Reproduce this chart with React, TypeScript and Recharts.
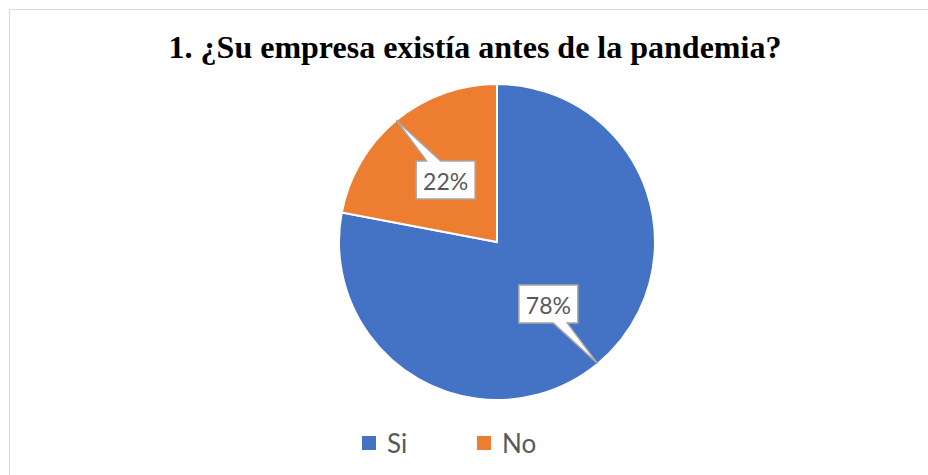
import React from 'react';
import { PieChart, Pie, Cell, Legend } from 'recharts';

// answers and their share of the responses (%)
const categories = ['Si', 'No'];
const shares = [78, 22];
const colors = ['#4472C4', '#ED7D31'];

const data = categories.map((name, i) => ({ name, value: shares[i] }));

const RADIAN = Math.PI / 180;

// callout box with a pointer that reaches the slice edge
const CalloutLabel = (props: any) => {
  const { cx, cy, midAngle, outerRadius, percent } = props;
  const cos = Math.cos(-midAngle * RADIAN);
  const sin = Math.sin(-midAngle * RADIAN);
  const bx = cx + outerRadius * 0.51 * cos;
  const by = cy + outerRadius * 0.51 * sin;
  const tx = cx + outerRadius * cos;
  const ty = cy + outerRadius * sin;
  const w = 59;
  const h = 38;
  const x0 = bx - w / 2;
  const x1 = bx + w / 2;
  const y0 = by - h / 2;
  const y1 = by + h / 2;
  const base = bx + (cos < 0 ? -12 : 12);
  let d;
  if (ty < by) {
    d = `M${x0},${y0} L${base - 7},${y0} L${tx},${ty} L${base + 7},${y0} L${x1},${y0} L${x1},${y1} L${x0},${y1} Z`;
  } else {
    d = `M${x0},${y0} L${x1},${y0} L${x1},${y1} L${base + 7},${y1} L${tx},${ty} L${base - 7},${y1} L${x0},${y1} Z`;
  }
  return (
    <g>
      <path d={d} fill="#ffffff" stroke="#a6a6a6" strokeWidth={1.5} strokeLinejoin="miter" />
      <text
        x={bx}
        y={by + 1}
        textAnchor="middle"
        dominantBaseline="central"
        fill="#595959"
        fontFamily="Lato, sans-serif"
        fontSize={23}
      >
        {`${Math.round(percent * 100)}%`}
      </text>
    </g>
  );
};

const LegendContent = () => (
  <div style={{ display: 'flex', fontFamily: 'Lato, sans-serif', fontSize: 26, color: '#595959' }}>
    {categories.map((c, i) => (
      <div key={c} style={{ display: 'flex', alignItems: 'center', width: i === 0 ? 115 : 'auto' }}>
        <span style={{ width: 14, height: 14, background: colors[i], display: 'inline-block', marginRight: 11 }} />
        <span>{c}</span>
      </div>
    ))}
  </div>
);

export default function App() {
  return (
    <div style={{ position: 'absolute', left: 0, top: 0, width: 928, height: 475, overflow: 'hidden', background: '#fff' }}>
      <div
        style={{
          position: 'absolute',
          left: 9,
          top: 9,
          width: 960,
          height: 520,
          border: '1.5px solid #d9d9d9',
        }}
      />
      <div
        style={{
          position: 'absolute',
          left: 0,
          top: 29,
          width: 950,
          textAlign: 'center',
          fontFamily: '"Liberation Serif", "Times New Roman", serif',
          fontWeight: 'bold',
          fontSize: 32,
          color: '#000',
        }}
      >
        1. ¿Su empresa existía antes de la pandemia?
      </div>
      <div style={{ position: 'absolute', left: 0, top: 0 }}>
        <PieChart width={928} height={475} margin={{ top: 0, right: 0, bottom: 0, left: 0 }}>
          <Pie
            data={data}
            dataKey="value"
            nameKey="name"
            cx={497}
            cy={242}
            outerRadius={158}
            startAngle={90}
            endAngle={-270}
            stroke="#ffffff"
            strokeWidth={2}
            label={CalloutLabel}
            labelLine={false}
            isAnimationActive={false}
          >
            {data.map((d, i) => (
              <Cell key={d.name} fill={colors[i]} />
            ))}
          </Pie>
          <Legend
            content={<LegendContent />}
            wrapperStyle={{ position: 'absolute', left: 362, top: 427, width: 'auto' }}
          />
        </PieChart>
      </div>
    </div>
  );
}
